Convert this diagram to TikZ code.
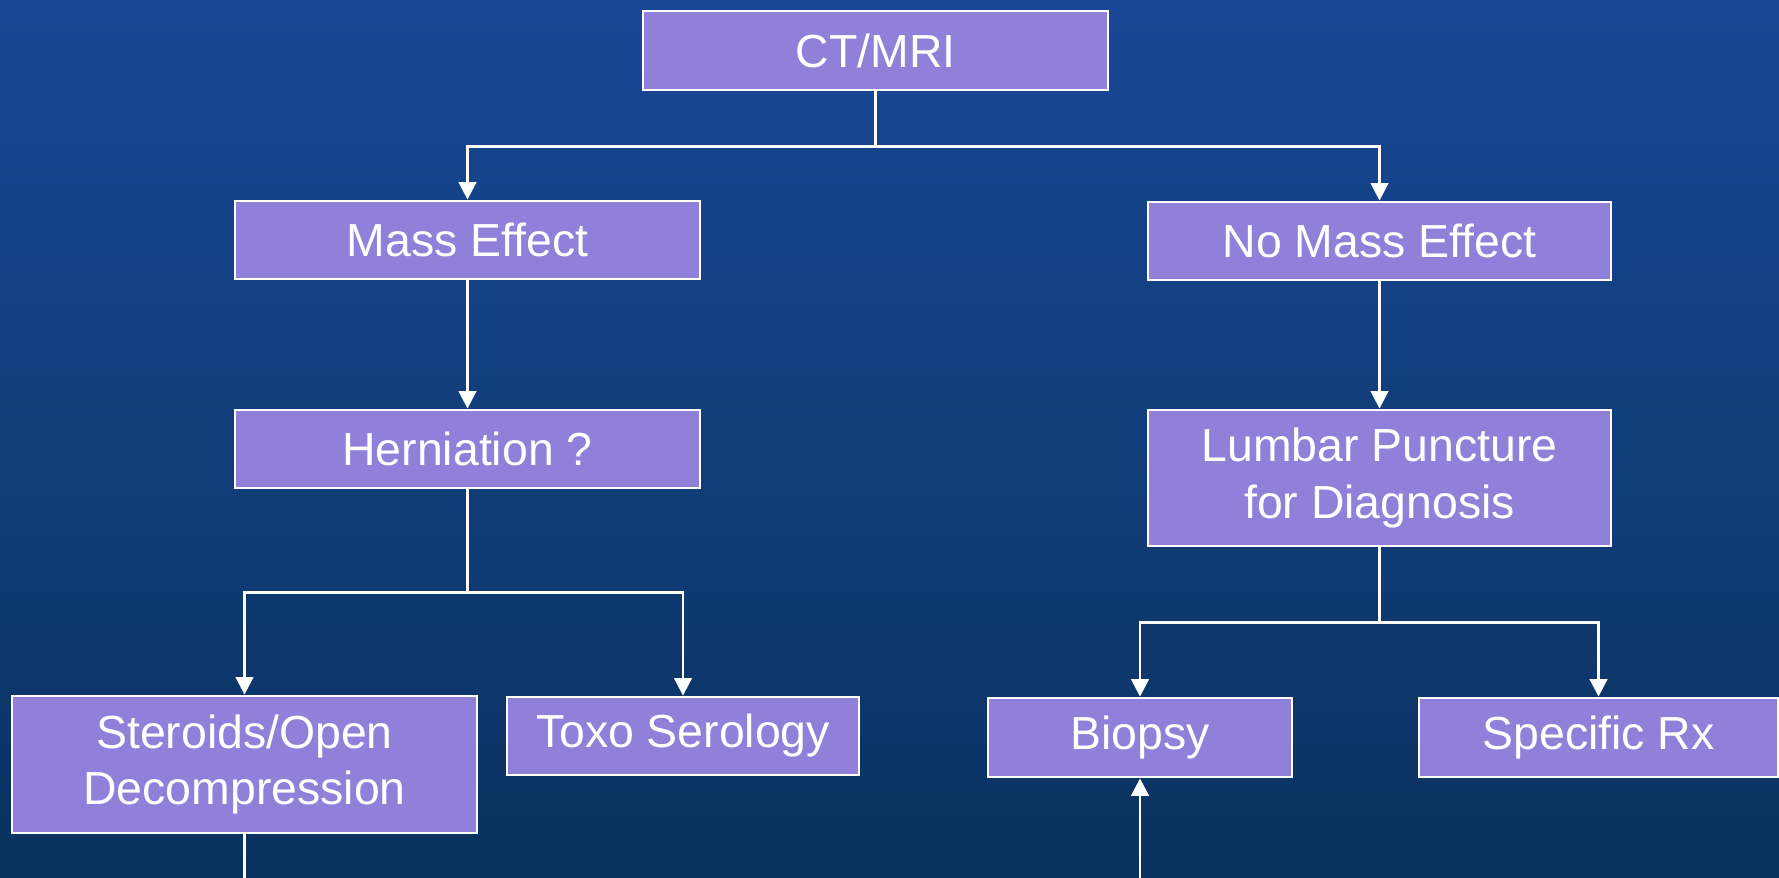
\documentclass[tikz,border=0pt]{standalone}
\usepackage{fontspec}
\setmainfont{Liberation Sans}
\usepackage{tikz}
\usetikzlibrary{arrows.meta}
\definecolor{bgtop}{RGB}{24,72,150}
\definecolor{bgbot}{RGB}{10,50,94}
\definecolor{boxfill}{RGB}{144,128,218}
\begin{document}
\begin{tikzpicture}[>={Triangle[width=5pt,length=5pt]},
  box/.style={draw=white,line width=0.8pt,fill=boxfill,text=white,
    align=center,inner sep=0pt,font=\fontsize{13.2}{16}\selectfont},
  link/.style={white,line width=0.8pt}]
  % background
  \useasboundingbox (0,0) rectangle (17.79,8.78);
  \shade[top color=bgtop,bottom color=bgbot] (0,0) rectangle (17.79,8.78);
  % boxes
  \node[box,minimum width=4.65cm,minimum height=0.79cm] (ctmri) at (8.755,8.275) {CT/MRI};
  \node[box,minimum width=4.65cm,minimum height=0.78cm] (mass) at (4.675,6.38) {Mass Effect};
  \node[box,minimum width=4.63cm,minimum height=0.78cm] (nomass) at (13.795,6.37) {No Mass Effect};
  \node[box,minimum width=4.65cm,minimum height=0.78cm] (hern) at (4.675,4.29) {Herniation ?};
  \node[box,minimum width=4.63cm,minimum height=1.36cm] (lumbar) at (13.795,4.0) {Lumbar Puncture\\for Diagnosis};
  \node[box,minimum width=4.65cm,minimum height=1.37cm] (steroids) at (2.445,1.135) {Steroids/Open\\Decompression};
  \node[box,minimum width=3.52cm,minimum height=0.78cm] (toxo) at (6.83,1.42) {Toxo Serology};
  \node[box,minimum width=3.04cm,minimum height=0.79cm] (biopsy) at (11.40,1.405) {Biopsy};
  \node[box,minimum width=3.59cm,minimum height=0.79cm] (specrx) at (15.985,1.405) {Specific Rx};
  % free ends at the lower edge
  \coordinate (sout) at (2.445,0);
  \coordinate (bin) at (11.40,0);
  % connectors
  \draw[link] (ctmri.south) -- ++(0,-0.55) coordinate (c1);
  \draw[link,->] (c1) -| (mass.north);
  \draw[link,->] (c1) -| (nomass.north);
  \draw[link,->] (mass) -- (hern);
  \draw[link,->] (nomass) -- (lumbar);
  \draw[link] (hern.south) -- ++(0,-1.03) coordinate (c2);
  \draw[link,->] (c2) -| (steroids.north);
  \draw[link,->] (c2) -| (toxo.north);
  \draw[link] (lumbar.south) -- ++(0,-0.75) coordinate (c3);
  \draw[link,->] (c3) -| (biopsy.north);
  \draw[link,->] (c3) -| (specrx.north);
  \draw[link] (steroids.south) -- (sout);
  \draw[link,->] (bin) -- (biopsy.south);
\end{tikzpicture}
\end{document}
